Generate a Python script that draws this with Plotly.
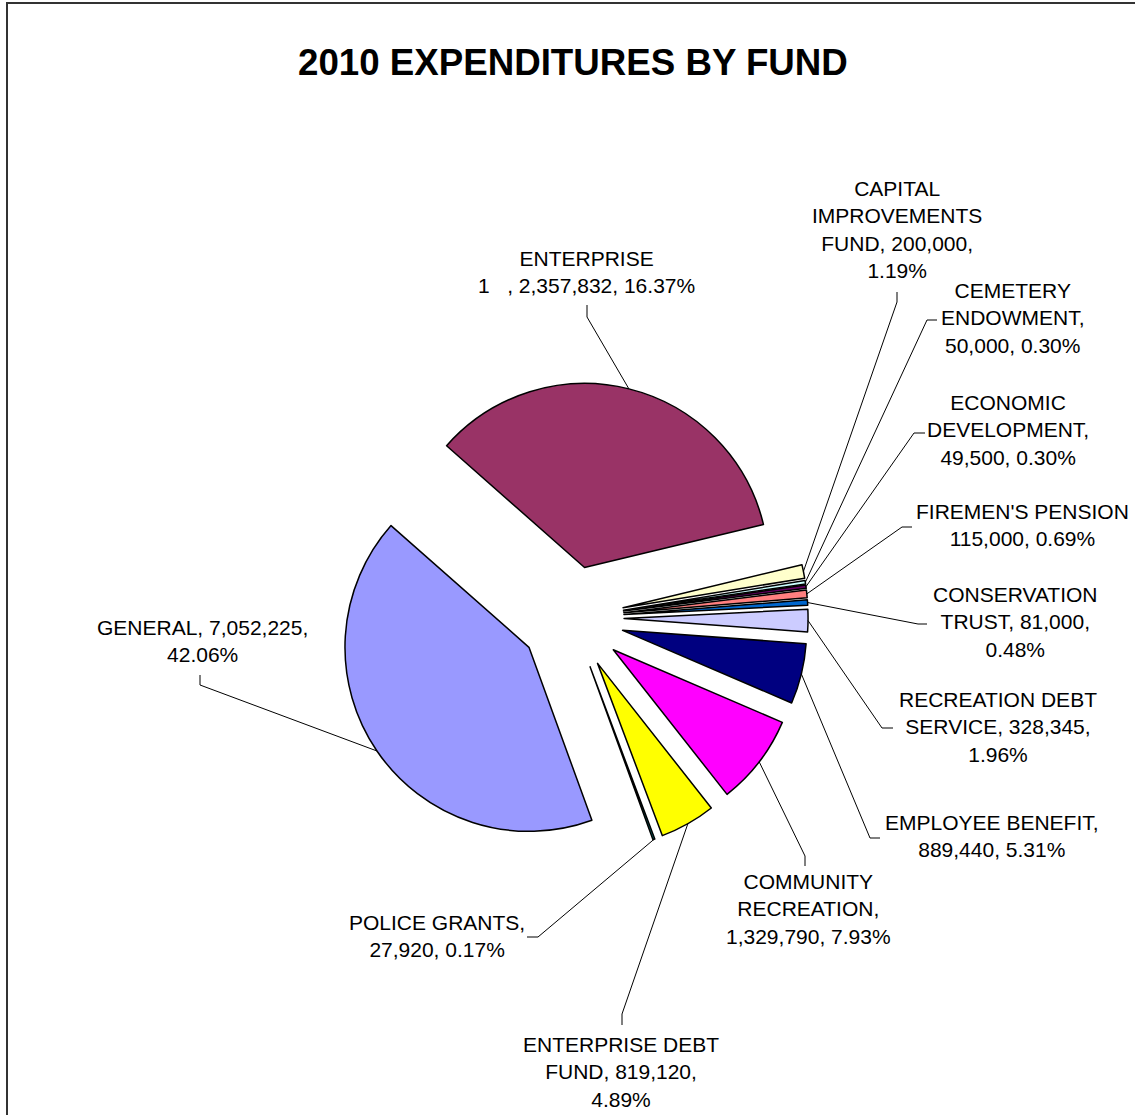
import math
import plotly.graph_objects as go

# Fund expenditures, 2010 (clockwise order of the pie)
funds = [
    "GENERAL", "ENTERPRISE", "CAPITAL IMPROVEMENTS FUND", "CEMETERY ENDOWMENT",
    "ECONOMIC DEVELOPMENT", "FIREMEN'S PENSION", "CONSERVATION TRUST",
    "RECREATION DEBT SERVICE", "EMPLOYEE BENEFIT", "COMMUNITY RECREATION",
    "ENTERPRISE DEBT FUND", "POLICE GRANTS",
]
# Note: the ENTERPRISE amount is an estimate. It is the remainder that makes the
# other funds' printed percentages come out right (about 34.7% of the total).
# Its own printed label ("2,357,832, 16.37%") does not agree with those
# percentages, so that label is kept as text only.
amounts = [
    7052225, 5823300, 200000, 50000,
    49500, 115000, 81000,
    328345, 889440, 1329790,
    819120, 27920,
]
colors = [
    "#9999FF", "#993366", "#FFFFCC", "#CCFFFF",
    "#660066", "#FF8080", "#0066CC",
    "#CCCCFF", "#000080", "#FF00FF",
    "#FFFF00", "#008080",
]
# Data label text as printed next to each slice
label_text = [
    "GENERAL, 7,052,225,<br>42.06%",
    "ENTERPRISE<br>1\u00a0\u00a0\u00a0, 2,357,832, 16.37%",
    "CAPITAL<br>IMPROVEMENTS<br>FUND, 200,000,<br>1.19%",
    "CEMETERY<br>ENDOWMENT,<br>50,000, 0.30%",
    "ECONOMIC<br>DEVELOPMENT,<br>49,500, 0.30%",
    "FIREMEN'S PENSION<br>115,000, 0.69%",
    "CONSERVATION<br>TRUST, 81,000,<br>0.48%",
    "RECREATION DEBT<br>SERVICE, 328,345,<br>1.96%",
    "EMPLOYEE BENEFIT,<br>889,440, 5.31%",
    "COMMUNITY<br>RECREATION,<br>1,329,790, 7.93%",
    "ENTERPRISE DEBT<br>FUND, 819,120,<br>4.89%",
    "POLICE GRANTS,<br>27,920, 0.17%",
]

# Layout (pixels)
W, H = 1135, 1115
CX, CY = 572, 618          # pie centre
R = 184                    # slice radius
PULL = 0.283               # explosion, fraction of radius
ROTATION = 160             # start angle of first slice, clockwise from 12 o'clock

# label centre (x, y) and leader-line anchor/elbow points
label_pos = [
    (202, 641), (586, 272), (897, 229), (1013, 318),
    (1008, 430), (1022, 525), (1015, 622), (998, 727),
    (992, 836), (808, 909), (621, 1072), (437, 936),
]
leader_start = [
    ((200, 675), (200, 685)), ((587, 305), (587, 317)),
    ((897, 292), (897, 302)), ((937, 320), (927, 320)),
    ((925, 433), (914, 433)), ((912, 527), (902, 527)),
    ((927, 624), (918, 624)), ((893, 728), (882, 728)),
    ((880, 838), (870, 838)), ((805, 866), (805, 856)),
    ((622, 1025), (622, 1014)), ((527, 937), (538, 937)),
]

FONT = "Arial, Liberation Sans, sans-serif"


def px(x, y):
    return x / W, 1 - y / H


half = R * (1 + PULL)
dom_x = [(CX - half) / W, (CX + half) / W]
dom_y = [1 - (CY + half) / H, 1 - (CY - half) / H]

fig = go.Figure(
    go.Pie(
        labels=funds,
        values=amounts,
        sort=False,
        direction="clockwise",
        rotation=ROTATION,
        pull=[PULL] * len(amounts),
        marker=dict(colors=colors, line=dict(color="black", width=1.5)),
        textinfo="none",
        hoverinfo="label+value+percent",
        domain=dict(x=dom_x, y=dom_y),
        showlegend=False,
    )
)

# leader lines from each label to the middle of its slice's outer arc
total = sum(amounts)
shapes = []
cum = 0.0
for i, v in enumerate(amounts):
    mid = math.radians(ROTATION + 360.0 * (cum + v / 2.0) / total)
    cum += v
    ax = CX + half * math.sin(mid)
    ay = CY - half * math.cos(mid)
    (sx, sy), (ex, ey) = leader_start[i]
    p0, p1, p2 = px(sx, sy), px(ex, ey), px(ax, ay)
    shapes.append(dict(
        type="path", xref="paper", yref="paper",
        path=f"M {p0[0]},{p0[1]} L {p1[0]},{p1[1]} L {p2[0]},{p2[1]}",
        line=dict(color="black", width=1),
    ))

# chart frame
fx0, fy0 = px(7, 3)
fx1, fy1 = px(1142, 1122)
shapes.append(dict(
    type="rect", xref="paper", yref="paper",
    x0=fx0, y0=fy1, x1=fx1, y1=fy0,
    line=dict(color="#333333", width=2), fillcolor="rgba(0,0,0,0)",
))

annotations = []
for text, (lx, ly) in zip(label_text, label_pos):
    x, y = px(lx, ly)
    annotations.append(dict(
        x=x, y=y, xref="paper", yref="paper", text=text,
        showarrow=False, xanchor="center", yanchor="middle", align="center",
        font=dict(family=FONT, size=21, color="black"),
    ))

tx, ty = px(573, 62)
annotations.append(dict(
    x=tx, y=ty, xref="paper", yref="paper",
    text="<b>2010 EXPENDITURES BY FUND</b>",
    showarrow=False, xanchor="center", yanchor="middle",
    font=dict(family=FONT, size=36.7, color="black"),
))

fig.update_layout(
    width=W, height=H,
    margin=dict(l=0, r=0, t=0, b=0),
    paper_bgcolor="white", plot_bgcolor="white",
    shapes=shapes, annotations=annotations,
)

fig.write_html("out.html")
